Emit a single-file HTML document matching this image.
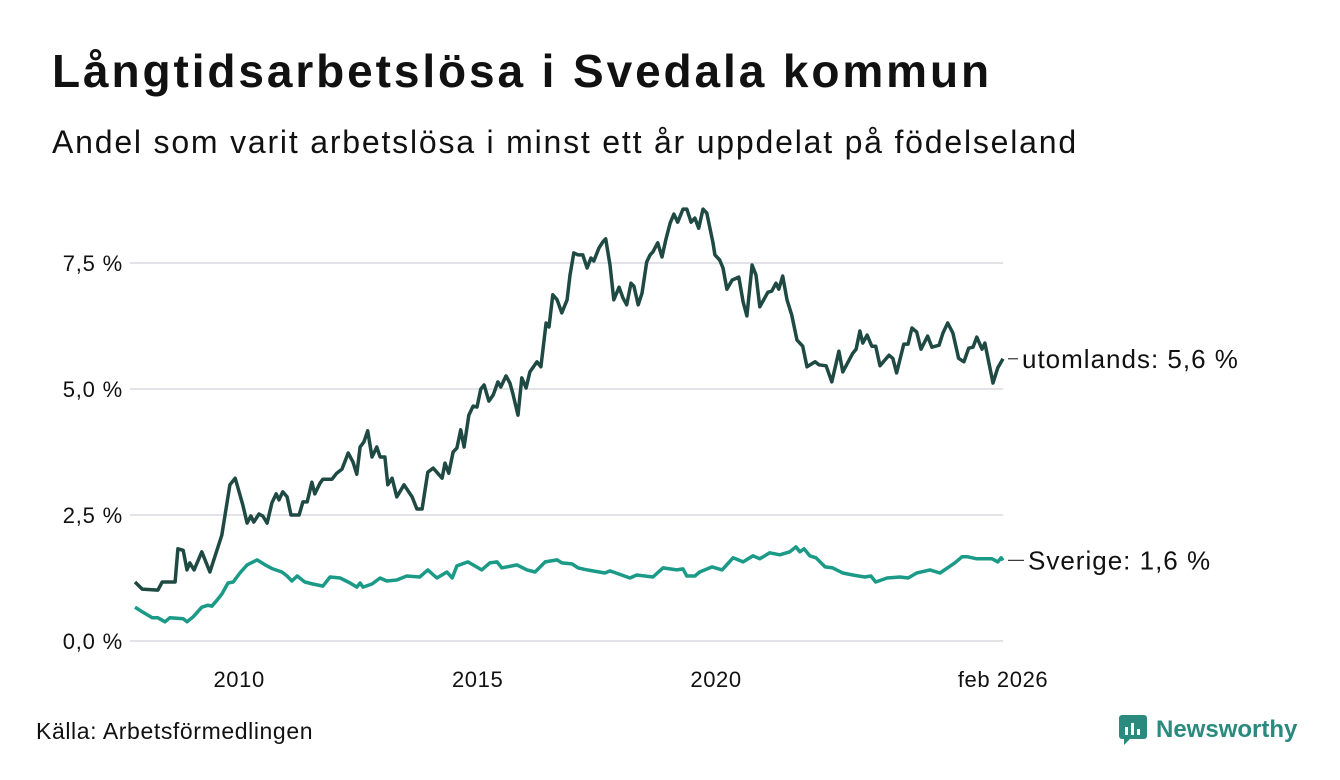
<!DOCTYPE html>
<html><head><meta charset="utf-8"><style>
body{margin:0;background:#fff;font-family:"Liberation Sans",sans-serif;color:#111}
#wrap{position:relative;width:1340px;height:780px;overflow:hidden}
h1{position:absolute;left:52px;top:44px;margin:0;font-size:46px;font-weight:bold;letter-spacing:2.9px}
.sub{position:absolute;left:52px;top:124px;font-size:32px;letter-spacing:1.8px}
.src{position:absolute;left:36px;top:718px;font-size:23px;letter-spacing:0.6px}
</style></head><body>
<div id="wrap">
<h1>Långtidsarbetslösa i Svedala kommun</h1>
<div class="sub">Andel som varit arbetslösa i minst ett år uppdelat på födelseland</div>
<svg id="chart" width="1340" height="780" style="position:absolute;left:0;top:0"></svg>
<div class="src">Källa: Arbetsförmedlingen</div>
<div style="position:absolute;left:1118px;top:714px;display:flex;align-items:center">
<svg width="30" height="32"><rect x="1" y="1" width="28" height="24" rx="3" fill="#2a8a7e"/><polygon points="6,25 12,25 6,31" fill="#2a8a7e"/><rect x="7" y="13" width="3" height="8" fill="#fff"/><rect x="13" y="9" width="3" height="12" fill="#fff"/><rect x="19" y="15" width="3" height="6" fill="#fff"/></svg>
<span style="margin-left:8px;font-size:24px;font-weight:bold;color:#2a8a7e">Newsworthy</span></div>
</div>
<script>
const yTicks=[0,2.5,5,7.5];
const yTickLabels=["0,0 %","2,5 %","5,0 %","7,5 %"];
const xTicks=[2010,2015,2020,2026.08];
const xTickLabels=["2010","2015","2020","feb 2026"];
const utDates=[2007.90,2008.05,2008.38,2008.47,2008.74,2008.80,2008.91,2008.99,2009.05,2009.14,2009.30,2009.47,2009.72,2009.89,2010.00,2010.16,2010.25,2010.33,2010.39,2010.50,2010.58,2010.67,2010.77,2010.86,2010.92,2011.00,2011.09,2011.17,2011.34,2011.42,2011.51,2011.61,2011.67,2011.78,2011.84,2012.03,2012.13,2012.24,2012.37,2012.47,2012.55,2012.62,2012.70,2012.78,2012.87,2012.97,2013.04,2013.14,2013.20,2013.29,2013.39,2013.54,2013.71,2013.81,2013.92,2014.04,2014.15,2014.34,2014.40,2014.48,2014.57,2014.65,2014.73,2014.80,2014.90,2014.99,2015.07,2015.15,2015.22,2015.32,2015.41,2015.51,2015.57,2015.68,2015.76,2015.82,2015.93,2016.01,2016.10,2016.18,2016.24,2016.33,2016.41,2016.52,2016.58,2016.66,2016.75,2016.85,2016.96,2017.02,2017.10,2017.19,2017.29,2017.38,2017.46,2017.52,2017.63,2017.71,2017.77,2017.86,2017.94,2018.05,2018.13,2018.21,2018.30,2018.36,2018.45,2018.53,2018.63,2018.70,2018.76,2018.86,2018.95,2019.03,2019.12,2019.20,2019.28,2019.39,2019.47,2019.56,2019.64,2019.72,2019.81,2019.89,2020.02,2020.06,2020.16,2020.23,2020.31,2020.42,2020.56,2020.65,2020.73,2020.84,2020.92,2021.00,2021.17,2021.25,2021.34,2021.40,2021.48,2021.57,2021.67,2021.78,2021.90,2021.99,2022.16,2022.24,2022.39,2022.51,2022.66,2022.74,2022.95,2023.02,2023.10,2023.16,2023.25,2023.35,2023.43,2023.52,2023.71,2023.79,2023.87,2024.02,2024.11,2024.19,2024.29,2024.38,2024.52,2024.61,2024.76,2024.84,2024.94,2025.05,2025.17,2025.28,2025.38,2025.47,2025.55,2025.66,2025.72,2025.89,2025.99,2026.10];
const utValues=[1.17,1.03,1.01,1.17,1.17,1.83,1.80,1.41,1.55,1.41,1.77,1.37,2.10,3.10,3.23,2.70,2.34,2.48,2.36,2.52,2.48,2.34,2.74,2.92,2.80,2.96,2.86,2.50,2.50,2.76,2.76,3.15,2.92,3.13,3.21,3.21,3.33,3.41,3.73,3.55,3.31,3.85,3.95,4.17,3.65,3.85,3.65,3.65,3.10,3.23,2.86,3.10,2.86,2.62,2.62,3.35,3.43,3.23,3.53,3.33,3.75,3.83,4.19,3.85,4.48,4.66,4.64,5.00,5.08,4.76,4.88,5.14,5.04,5.26,5.12,4.92,4.48,5.22,5.02,5.34,5.42,5.54,5.44,6.31,6.23,6.87,6.77,6.51,6.77,7.26,7.70,7.66,7.66,7.40,7.60,7.54,7.80,7.92,7.98,7.46,6.77,7.02,6.81,6.67,7.10,7.04,6.67,6.90,7.52,7.66,7.72,7.90,7.62,7.96,8.29,8.47,8.31,8.57,8.57,8.31,8.39,8.19,8.57,8.49,7.90,7.66,7.56,7.40,6.98,7.16,7.22,6.73,6.45,7.46,7.26,6.63,6.92,6.94,7.10,6.98,7.24,6.77,6.47,5.97,5.85,5.44,5.54,5.48,5.46,5.14,5.75,5.34,5.71,5.79,6.15,5.91,6.07,5.85,5.85,5.46,5.67,5.61,5.32,5.89,5.89,6.21,6.13,5.79,6.05,5.83,5.87,6.11,6.31,6.11,5.61,5.54,5.81,5.83,6.03,5.79,5.91,5.12,5.42,5.60];
const seDates=[2007.90,2008.05,2008.26,2008.38,2008.53,2008.63,2008.91,2008.99,2009.12,2009.30,2009.43,2009.51,2009.62,2009.72,2009.85,2009.96,2010.10,2010.25,2010.46,2010.63,2010.79,2010.98,2011.09,2011.19,2011.30,2011.46,2011.63,2011.84,2011.99,2012.20,2012.41,2012.55,2012.62,2012.68,2012.87,2013.04,2013.18,2013.39,2013.60,2013.87,2014.04,2014.23,2014.44,2014.55,2014.65,2014.88,2015.17,2015.34,2015.49,2015.59,2015.91,2016.12,2016.29,2016.50,2016.75,2016.85,2017.06,2017.19,2017.38,2017.75,2017.86,2018.28,2018.42,2018.76,2018.97,2019.26,2019.39,2019.47,2019.64,2019.74,2020.00,2020.21,2020.44,2020.65,2020.86,2021.00,2021.21,2021.42,2021.63,2021.76,2021.84,2021.93,2022.05,2022.18,2022.37,2022.53,2022.74,2022.95,2023.20,2023.33,2023.43,2023.67,2023.94,2024.11,2024.29,2024.57,2024.78,2025.09,2025.24,2025.36,2025.55,2025.87,2025.99,2026.06,2026.10];
const seValues=[0.67,0.58,0.46,0.46,0.38,0.46,0.44,0.38,0.48,0.67,0.71,0.69,0.81,0.93,1.15,1.17,1.35,1.51,1.61,1.51,1.43,1.37,1.29,1.19,1.29,1.17,1.13,1.09,1.27,1.25,1.15,1.07,1.15,1.07,1.13,1.25,1.19,1.21,1.29,1.27,1.41,1.25,1.37,1.25,1.49,1.57,1.41,1.55,1.57,1.45,1.51,1.41,1.37,1.57,1.61,1.55,1.53,1.45,1.41,1.35,1.39,1.25,1.31,1.27,1.45,1.41,1.43,1.29,1.29,1.37,1.47,1.41,1.65,1.57,1.69,1.63,1.75,1.71,1.77,1.87,1.77,1.83,1.69,1.65,1.47,1.45,1.35,1.31,1.27,1.29,1.17,1.25,1.27,1.25,1.35,1.41,1.35,1.55,1.67,1.67,1.63,1.63,1.57,1.65,1.60];
const seriesLabels=["utomlands: 5,6 %","Sverige: 1,6 %"];

const NS="http://www.w3.org/2000/svg";
const svg=document.getElementById('chart');
const X0=2007.9,X1=2026.1,PX0=135,PX1=1003;
const xs=t=>PX0+(t-X0)/(X1-X0)*(PX1-PX0);
const ys=v=>641-v*50.4;
function mk(tag,attrs){const e=document.createElementNS(NS,tag);for(const k in attrs)e.setAttribute(k,attrs[k]);svg.appendChild(e);return e;}
yTicks.forEach((v,i)=>{
  const g=mk('line',{x1:130,x2:1003,y1:ys(v),y2:ys(v),stroke:'#e2e2e8','stroke-width':2});
  
  
  const t=mk('text',{x:123,y:ys(v)+8,'text-anchor':'end','font-size':22,'letter-spacing':0.8,fill:'#111','font-family':'Liberation Sans, sans-serif'});
  t.textContent=yTickLabels[i];
  
  
});
xTicks.forEach((v,i)=>{
  const t=mk('text',{x:xs(v)+(i==3?1:4),y:687,'text-anchor':'middle','font-size':22,'letter-spacing':0.6,fill:'#111','font-family':'Liberation Sans, sans-serif'});
  t.textContent=xTickLabels[i];
  
  
});
function line(d,v,color,name){
  const p=mk('path',{d:d.map((t,i)=>(i?'L':'M')+xs(t).toFixed(1)+','+ys(v[i]).toFixed(1)).join(''),fill:'none',stroke:color,'stroke-width':3.5,'stroke-linejoin':'round'});
  
  
}
line(seDates,seValues,'#1a9a87','sverige-line');
line(utDates,utValues,'#1f4a44','utomlands-line');
function endLabel(d,v,text,name,x0){
  const y=ys(v[v.length-1]);
  const c=mk('line',{x1:1008,x2:x0-4,y1:y,y2:y,stroke:'#333','stroke-width':1.2});
  
  
  const t=mk('text',{x:x0,y:y+9,'font-size':26,'letter-spacing':1,fill:'#111','font-family':'Liberation Sans, sans-serif'});
  t.textContent=text;
  
  
}
endLabel(utDates,utValues,seriesLabels[0],'utomlands-label',1022);
endLabel(seDates,seValues,seriesLabels[1],'sverige-label',1028);
</script>
</body></html>
